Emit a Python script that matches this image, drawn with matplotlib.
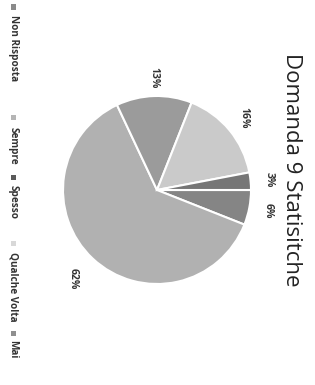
import matplotlib.pyplot as plt
from matplotlib.patches import Rectangle

# scanned page is turned a quarter turn clockwise, so everything is drawn rotated
categories = ["Non Risposta", "Sempre", "Spesso", "Qualche Volta", "Mai"]
values = [6, 62, 13, 16, 3]
colors = ["#858585", "#b1b1b1", "#9b9b9b", "#cacaca", "#767676"]
legend_colors = ["#8a8a8a", "#b5b5b5", "#5a5a5a", "#d8d8d8", "#8f8f8f"]
title = "Domanda 9 Statisitche"

W, H = 315, 385
fig = plt.figure(figsize=(W / 100, H / 100), dpi=100)
plt.rcParams['font.family'] = ['Open Sans', 'DejaVu Sans']

cx, cy, r = 157, 190, 94
ax = fig.add_axes([(cx - r) / W, (H - cy - r) / H, 2 * r / W, 2 * r / H])
wedges, texts, autotexts = ax.pie(
    values, colors=colors, startangle=0, counterclock=False,
    autopct=lambda p: f"{p:.0f}%", pctdistance=1.2,
    wedgeprops=dict(edgecolor="white", linewidth=1.5),
    textprops=dict(fontsize=7.5, fontweight="bold", color="#333333", rotation=-90),
)
autotexts[1].set_position((autotexts[1].get_position()[0] * 1.08,
                           autotexts[1].get_position()[1] * 1.08))
ax.set_xlim(-1, 1)
ax.set_ylim(-1, 1)
ax.set_aspect("equal")
ax.axis("off")

fig.text(292 / W, 1 - 170 / H, title, rotation=-90, fontsize=16,
         color="#222222", ha="center", va="center")

# legend, read top to bottom
marker_y = [7, 117, 177, 243, 333]
text_y = [15, 127, 185, 252, 340]
for name, col, my, ty in zip(categories, legend_colors, marker_y, text_y):
    fig.patches.append(Rectangle(((13 - 2.5) / W, 1 - (my + 2.5) / H), 5 / W, 5 / H,
                                 transform=fig.transFigure, facecolor=col,
                                 edgecolor="none"))
    fig.text(13 / W, 1 - ty / H, name, rotation=-90, fontsize=7.2,
             fontweight="bold", color="#333333", ha="center", va="top")

fig.savefig("out.png", dpi=100)
